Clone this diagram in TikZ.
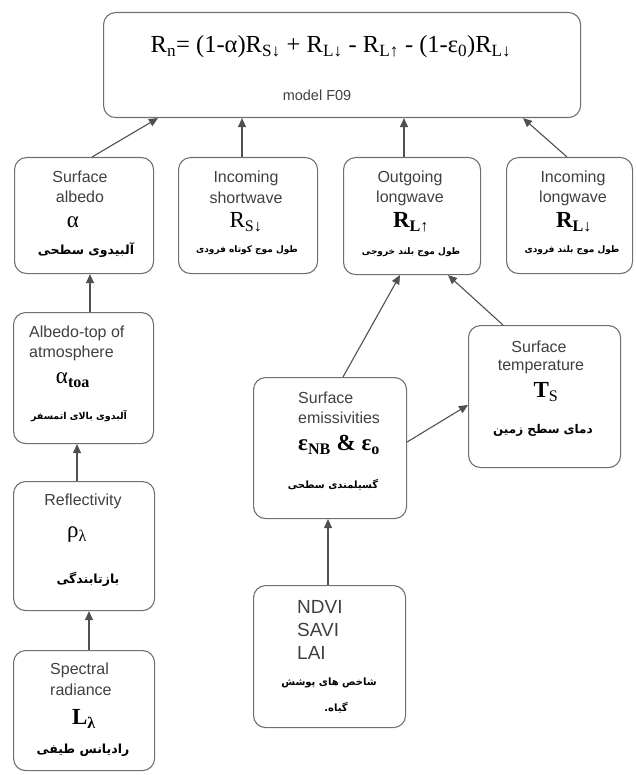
\documentclass[tikz,border=0pt]{standalone}
\usepackage{fontspec}
\setmainfont{Liberation Serif}
\setsansfont{Liberation Sans}
\newfontfamily\fa[Script=Arabic,BoldFont={DejaVu Sans Bold}]{DejaVu Sans}
\TeXXeTstate=1
\usetikzlibrary{arrows.meta}
\definecolor{boxgray}{HTML}{707070}
\definecolor{linegray}{HTML}{505050}
\definecolor{txtgray}{HTML}{404040}
\begin{document}
\begin{tikzpicture}[x=1pt,y=-1pt,
  box/.style={draw=boxgray, line width=1.1pt, rounded corners=12pt, anchor=north west, inner sep=0pt},
  arr/.style={draw=linegray, line width=1.1pt, -{Triangle[length=9pt,width=8pt]}},
  en/.style={font=\sffamily\fontsize{16}{19}\selectfont, text=txtgray, inner sep=0pt},
  big/.style={font=\sffamily\fontsize{19}{23}\selectfont, text=txtgray, inner sep=0pt},
  gr/.style={font=\fontsize{23}{26}\selectfont, inner sep=0pt},
  fas/.style={font=\fa\bfseries\fontsize{9}{11}\selectfont, inner sep=0pt},
  fam/.style={font=\fa\bfseries\fontsize{12.5}{15}\selectfont, inner sep=0pt},
  fan/.style={font=\fa\bfseries\fontsize{10}{12}\selectfont, inner sep=0pt}
]
\useasboundingbox (0,0) rectangle (635,775);
% boxes
\node[box, minimum width=477pt, minimum height=105pt] (top) at (103,12) {};
\node[box, minimum width=139pt, minimum height=116pt] (alb) at (14,157) {};
\node[box, minimum width=139pt, minimum height=116pt] (sw) at (178,157) {};
\node[box, minimum width=137pt, minimum height=117pt] (olw) at (343,157) {};
\node[box, minimum width=126pt, minimum height=116pt] (ilw) at (506,157) {};
\node[box, minimum width=140pt, minimum height=131pt] (toa) at (13,312) {};
\node[box, minimum width=141pt, minimum height=129pt] (refl) at (13,481) {};
\node[box, minimum width=141pt, minimum height=120pt] (spec) at (13,650) {};
\node[box, minimum width=153pt, minimum height=141pt] (emis) at (253,377) {};
\node[box, minimum width=152pt, minimum height=142pt] (temp) at (468,325) {};
\node[box, minimum width=152pt, minimum height=142pt] (ndvi) at (253,585) {};
% top texts
\node[font=\fontsize{24.5}{28}\selectfont, inner sep=0pt] (eq) at (331,47)
  {R\textsubscript{n}= (1-α)R\textsubscript{S↓} + R\textsubscript{L↓} - R\textsubscript{L↑} - (1-ε\textsubscript{0})R\textsubscript{L↓}};
\node[font=\sffamily\fontsize{14.5}{17}\selectfont, text=txtgray, inner sep=0pt] (model) at (317,95) {model F09};
% row 2
\node[en] (a1) at (80,177) {Surface};
\node[en] (a2) at (80,197) {albedo};
\node[gr] (a3) at (73,222) {α};
\node[fam] (a4) at (86,250) {\beginR آلبیدوی سطحی\endR};
\node[en] (s1) at (246,178) {Incoming};
\node[en] (s2) at (246,198) {shortwave};
\node[gr] (s3) at (246,222) {R\textsubscript{S↓}};
\node[fas] (s4) at (247,250) {\beginR طول موج کوتاه فرودی\endR};
\node[en] (o1) at (410,178) {Outgoing};
\node[en] (o2) at (410,198) {longwave};
\node[gr] (o3) at (411,222) {\bfseries R\textsubscript{L↑}};
\node[fas] (o4) at (411,252) {\beginR طول موج بلند خروجی\endR};
\node[en] (i1) at (573,178) {Incoming};
\node[en] (i2) at (573,198) {longwave};
\node[gr] (i3) at (574,222) {\bfseries R\textsubscript{L↓}};
\node[fas] (i4) at (572,250) {\beginR طول موج بلند فرودی\endR};
% left column
\node[en, anchor=west] (t1) at (29,333) {Albedo-top of};
\node[en, anchor=west] (t2) at (29,353) {atmosphere};
\node[gr] (t3) at (73,380) {α\textsubscript{\bfseries toa}};
\node[fan, font=\fa\bfseries\fontsize{9.5}{12}\selectfont] (t4) at (79,416) {\beginR آلبدوی بالای اتمسفر\endR};
\node[en] (r1) at (83,501) {Reflectivity};
\node[gr] (r2) at (77,535) {ρ\textsubscript{λ}};
\node[fam] (r3) at (88,579) {\beginR بازتابندگی\endR};
\node[en, anchor=west] (p1) at (50,670) {Spectral};
\node[en, anchor=west] (p2) at (50,690) {radiance};
\node[gr] (p3) at (84,719) {\bfseries L\textsubscript{λ}};
\node[fam] (p4) at (83,750) {\beginR رادیانس طیفی\endR};
% middle/right
\node[en, anchor=west] (e1) at (298,398) {Surface};
\node[en, anchor=west] (e2) at (298,418) {emissivities};
\node[gr, anchor=west] (e3) at (298,445) {\bfseries ε\textsubscript{NB} \& ε\textsubscript{o}};
\node[fan, font=\fa\bfseries\fontsize{10}{12}\selectfont] (e4) at (333,485) {\beginR گسیلمندی سطحی\endR};
\node[en] (m1) at (539,347) {Surface};
\node[en] (m2) at (541,367) {temperature};
\node[gr] (m3) at (546,392) {\bfseries T\textsubscript{\mdseries S}};
\node[fan, font=\fa\bfseries\fontsize{12}{14}\selectfont] (m4) at (543,430) {\beginR دمای سطح زمین\endR};
\node[big, anchor=west] (n1) at (297,607) {NDVI};
\node[big, anchor=west] (n2) at (297,630) {SAVI};
\node[big, anchor=west] (n3) at (297,653) {LAI};
\node[fan] (n4) at (329,683) {\beginR شاخص های پوشش\endR};
\node[fan] (n5) at (336,708) {\beginR گیاه.\endR};
% connectors
\draw[arr] ([xshift=78pt]alb.north west) -- ([xshift=55pt]top.south west);
\draw[arr] ([xshift=64pt]sw.north west) -- ([xshift=139pt]top.south west);
\draw[arr] ([xshift=61pt]olw.north west) -- ([xshift=301pt]top.south west);
\draw[arr] ([xshift=61pt]ilw.north west) -- ([xshift=420pt]top.south west);
\draw[arr] ([xshift=77pt]toa.north west) -- ([xshift=76pt]alb.south west);
\draw[arr] ([xshift=64pt]refl.north west) -- ([xshift=64pt]toa.south west);
\draw[arr] ([xshift=76pt]spec.north west) -- ([xshift=76pt]refl.south west);
\draw[arr] ([xshift=75pt]ndvi.north west) -- ([xshift=75pt]emis.south west);
\draw[arr] ([yshift=-65pt]emis.north east) -- ([yshift=-80pt]temp.north west);
\draw[arr] ([xshift=90pt]emis.north west) -- ([xshift=57pt]olw.south west);
\draw[arr] ([xshift=35pt]temp.north west) -- ([xshift=105pt]olw.south west);
\end{tikzpicture}
\end{document}
